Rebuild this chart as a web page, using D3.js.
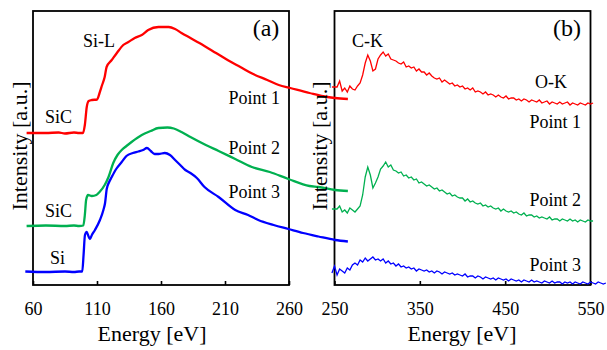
<!DOCTYPE html>
<html>
<head>
<meta charset="utf-8">
<script src="https://cdn.jsdelivr.net/npm/d3@7"></script>
<style>
    body { margin: 0; background: #fff; }
    svg text { font-family: "Liberation Serif", "DejaVu Serif", "Noto Serif", serif; fill: #000; }
</style>
</head>
<body>
<script>
// panel (a): Si-L edge, [energy eV, intensity a.u.]
const point1A = [[55,152],[70,152],[80,152.5],[85,151.5],[92,152.5],[96,152],[99,152],[100.5,160],[102,178],[103.5,184],[106,185],[110,185.5],[112,192],[114,200],[116,208],[117.5,218],[121.5,225],[125.5,232],[130.5,240],[134.5,243],[139.5,247],[145,250],[150,255],[158,258],[166,258],[171,256],[176,252],[183,247],[190,242],[203,232],[212,225],[222,218],[232,211],[243,205],[252,200],[261,197],[276,192],[290,188],[296,187],[306,186]]
const point2A = [[55,59],[70,59.5],[85,59],[92,59.5],[96,59],[99.3,59.5],[100.5,70],[101.5,85],[103,90],[106,89],[109.5,90],[112,93],[116,100],[119,108],[122.7,122],[126,130],[129.3,135],[133,139],[137,143],[145,150],[152,154],[158,157],[165,157.5],[170,156.5],[176,153],[183,148],[195,140],[205,134],[218,126],[231,118],[245,113],[259.5,106],[276,99],[283,98],[296,95],[306,94]]
const point3A = [[54,13.5],[70,13],[85,13.5],[92,13],[96,13.5],[98.5,13.5],[99.5,30],[100.6,50],[102,53],[103,50],[104.5,46],[106,50],[108.4,55],[112.3,65],[115,75],[116.3,82],[117.6,96],[119.5,103],[121.5,108],[125,116],[129.3,123],[133,129],[138,132],[142.3,133.5],[146,135],[149,137],[152,134],[155,131],[158,131],[163,132],[167,130],[171,125],[175,120],[179,115],[183,112],[188,107],[194,98],[205,88],[218,75],[228,70],[236,65],[248,60],[259.5,56],[271,52],[283,48.5],[296,45],[306,43.5]]

// panel (b): C-K / O-K region, intensities on a 3 eV channel grid from 247 eV
const channelStartB = 247
const channelStepB = 3
const point1B = [198,198,198,204,194,197,193,199,196,195,199,202,210,222,230,224,214,216,226,230,233,229,231,226,225,224,222,221,223,218,219,217,218,214,216,213,213,210,212,209,207,206,207,203,205,203,201,202,199,200,198,199,196,197,195,197,193,194,193,191,193,190,191,190,188,190,188,187,189,186,187,187,185,186,184,186,185,183,185,184,183,185,182,183,184,181,183,182,181,183,181,182,183,180,182,181,180,182,181,180,182,181,182]
const point2B = [76,76,76,79,73,75,72,77,75,73,76,79,90,108,118,110,97,102,108,116,119,123,118,120,115,114,112,113,109,110,107,108,105,106,102,103,101,99,100,98,96,97,94,95,93,91,92,89,90,88,87,87,84,86,83,84,82,81,82,79,80,78,79,77,76,77,74,76,74,73,74,72,73,71,70,72,69,70,70,68,69,67,68,67,66,68,65,66,66,64,66,65,64,66,64,65,63,65,64,63,65,64,64]
const point3B = [12,19,10,16,14,12,17,15,20,22,20,25,23,27,24,26,28,25,26,24,26,22,24,21,22,19,21,18,19,17,18,16,17,14,16,15,14,15,13,14,12,14,13,11,13,12,11,12,10,11,10,9,11,8,9,9,7,9,8,6,8,7,6,7,5,7,6,5,6,4,6,5,4,5,3,5,4,3,5,3,4,3,2,4,3,2,4,2,3,3,1,3,2,3,1,3,2,1,3,2,1,3,2,1,3,2,1,2]

const ticksA = [60, 110, 160, 210, 260]
const ticksB = [250, 350, 450, 550]

const dims = { width: 607, height: 350, top: 11, bottom: 285 }
const panelA = { left: 33, right: 289 }
const panelB = { left: 334.5, right: 590.5 }

const colors = { p1: '#ff0000', p2: '#00b050', p3: '#0000ff' }

const svg = d3.select('body')
    .append('svg')
    .attr('width', dims.width)
    .attr('height', dims.height)

const xA = d3.scaleLinear().domain([60, 260]).range([panelA.left, panelA.right])
const xB = d3.scaleLinear().domain([250, 550]).range([panelB.left, panelB.right])
const y = d3.scaleLinear().domain([0, 274]).range([dims.bottom, dims.top])

const toPairs = (vals) => vals.map((v, i) => [channelStartB + i * channelStepB, v])

// frames + bottom axes
const drawFrame = (x, ticks, panel) => {
    const axis = d3.axisBottom(x)
        .tickValues(ticks)
        .tickSizeInner(-4)
        .tickSizeOuter(0)
        .tickPadding(17)
        .tickFormat(d3.format('d'))
    const g = svg.append('g')
        .attr('transform', `translate(0, ${dims.bottom})`)
        .call(axis)
        .attr('font-family', null)
    g.select('.domain').remove()
    g.selectAll('line').attr('stroke', '#000').attr('stroke-width', 1.6)
    g.selectAll('text')
        .attr('font-size', 18)
        .attr('fill', '#000')

    svg.append('rect')
        .attr('x', panel.left)
        .attr('y', dims.top)
        .attr('width', panel.right - panel.left)
        .attr('height', dims.bottom - dims.top)
        .attr('fill', 'none')
        .attr('stroke', '#000')
        .attr('stroke-width', 1.8)
}

drawFrame(xA, ticksA, panelA)
drawFrame(xB, ticksB, panelB)

// spectra
const lineA = d3.line()
    .x(d => xA(d[0]))
    .y(d => y(d[1]))
    .curve(d3.curveMonotoneX)

const lineB = d3.line()
    .x(d => xB(d[0]))
    .y(d => y(d[1]))

const seriesB = [[point1B, colors.p1], [point2B, colors.p2], [point3B, colors.p3]]
seriesB.forEach(([vals, c]) => {
    svg.append('path')
        .attr('d', lineB(toPairs(vals)))
        .attr('fill', 'none')
        .attr('stroke', c)
        .attr('stroke-width', 1.3)
})

const seriesA = [[point1A, colors.p1], [point2A, colors.p2], [point3A, colors.p3]]
seriesA.forEach(([pts, c]) => {
    svg.append('path')
        .attr('d', lineA(pts))
        .attr('fill', 'none')
        .attr('stroke', c)
        .attr('stroke-width', 2.3)
        .attr('stroke-linejoin', 'round')
})

// text labels
const label = (txt, x, yy, size, anchor = 'start') => {
    svg.append('text')
        .attr('x', x)
        .attr('y', yy)
        .attr('font-size', size)
        .attr('text-anchor', anchor)
        .text(txt)
}

label('(a)', 266, 36, 24, 'middle')
label('Si-L', 83, 47, 18)
label('SiC', 45, 123, 18)
label('SiC', 45, 217, 18)
label('Si', 50, 264, 18)
label('Point 1', 280, 104, 18, 'end')
label('Point 2', 280, 154, 18, 'end')
label('Point 3', 280, 198, 18, 'end')

label('(b)', 567, 36, 24, 'middle')
label('C-K', 352, 47, 18)
label('O-K', 535, 88, 18)
label('Point 1', 581, 128, 18, 'end')
label('Point 2', 581, 206, 18, 'end')
label('Point 3', 581, 271, 18, 'end')

label('Energy [eV]', 152, 341, 22, 'middle')
label('Energy [eV]', 462, 341, 22, 'middle')

const yLabel = (x) => {
    svg.append('text')
        .attr('transform', `translate(${x}, 146) rotate(-90)`)
        .attr('font-size', 22)
        .attr('text-anchor', 'middle')
        .text('Intensity [a.u.]')
}
yLabel(27)
yLabel(327)
</script>
</body>
</html>
